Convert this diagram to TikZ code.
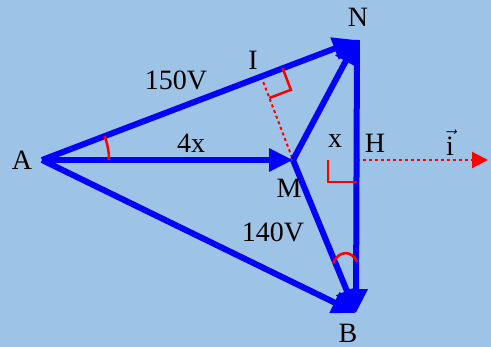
\documentclass[tikz,border=0pt]{standalone}
\usepackage{fontspec}
\setmainfont{Liberation Serif}
\usetikzlibrary{arrows.meta,calc}
\definecolor{bgblue}{RGB}{157,195,230}
\tikzset{
  vec/.style={draw=blue, line width=6pt, -{Triangle[length=24pt,width=22pt]}},
  redmark/.style={draw=red, line width=2.5pt},
  guide/.style={draw=red, line width=2pt, dash pattern=on 3pt off 3pt},
  lbl/.style={font=\fontsize{28}{28}\selectfont, inner sep=0pt}
}
\begin{document}
\begin{tikzpicture}[x=1pt,y=-1pt]
\fill[bgblue] (0,0) rectangle (491,347);
\useasboundingbox (0,0) rectangle (491,347);
\coordinate (A) at (42,160);
\coordinate (M) at (293,160);
\coordinate (H) at (357,160);
\coordinate (N) at (357,40);
\coordinate (B) at (356,313);
\coordinate (I) at (261.2,76.5);
\coordinate (E) at (488,160);
% dotted guides
\draw[guide] (I) -- (M);
\draw[guide, -{Triangle[length=16pt,width=16pt]}] (H) -- (E);
% vectors
\draw[vec] (A) -- (N);
\draw[vec] (A) -- (M);
\draw[vec] (A) -- (B);
\draw[vec] (M) -- (N);
\draw[vec] (M) -- (B);
\draw[vec] (N) -- (B);
% right angle at I
\draw[redmark] ($(I)!23pt!(N)$) coordinate (I1) -- ($(I1)+(8.2,21.5)$) -- ($(I)!23pt!(M)$);
% right angle at H
\draw[redmark] (328,160) -- (328,182) -- (357,182);
% angle at A
\draw[redmark] ($(A)+(67pt,0)$) arc[start angle=0, end angle=20.85, radius=67pt];
% angle at B
\draw[redmark] (333,263) .. controls (339,250) and (352,250) .. (357,262);
% labels
\node[lbl] (lN) at (358,17) {N};
\node[lbl] (lI) at (253,60) {I};
\node[lbl] (l150) at (176,80) {150V};
\node[lbl] (lA) at (22,160) {A};
\node[lbl] (l4x) at (191,143) {4x};
\node[lbl] (lM) at (289,188) {M};
\node[lbl] (lx) at (335,141) {x};
\node[lbl] (lH) at (375,143) {H};
\node[lbl] (li) at (450,143) {$\vec{\textrm{i}}$};
\node[lbl] (l140) at (273,232) {140V};
\node[lbl] (lB) at (348,333) {B};
\end{tikzpicture}
\end{document}
